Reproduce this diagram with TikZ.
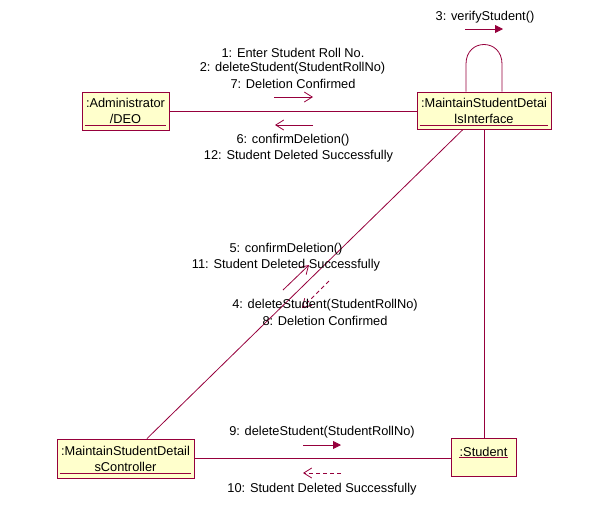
\documentclass[tikz,border=0pt]{standalone}
\usepackage{fontspec}
\setmainfont{Liberation Sans}
\usetikzlibrary{arrows.meta}
\definecolor{umlline}{RGB}{150,0,60}
\definecolor{umlfill}{RGB}{255,255,204}
\begin{document}
\begin{tikzpicture}[x=1pt,y=-1pt,
  font=\fontsize{12.8}{16}\selectfont,
  obj/.style={draw=umlline,fill=umlfill,line width=0.9pt,inner sep=0pt,align=center},
  conn/.style={draw=umlline,line width=0.8pt},
  msg/.style={draw=umlline,line width=0.8pt,-{Straight Barb[length=8pt,width=10pt]}},
  msgf/.style={draw=umlline,line width=0.8pt,-{Triangle[length=8pt,width=8pt]}},
  msgd/.style={msg,dash pattern=on 4pt off 3pt},
  lbl/.style={inner sep=0pt,align=center,text=black},
  uline/.style={draw=umlline,line width=0.8pt}]
\useasboundingbox (0,0) rectangle (594,512);

% objects
\node[obj,minimum width=87pt,minimum height=38pt] (adm) at (125.5,111) {};
\node[lbl] (admt) at (125.5,111) {:Administrator\\/DEO};
\node[obj,minimum width=134pt,minimum height=37pt] (int) at (484,110.5) {};
\node[lbl] (intt) at (484,111) {:MaintainStudentDetai\\lsInterface};
\node[obj,minimum width=137pt,minimum height=39pt] (ctl) at (125.5,458.5) {};
\node[lbl] (ctlt) at (125.5,458.5) {:MaintainStudentDetail\\sController};
\node[obj,minimum width=65pt,minimum height=38pt] (stu) at (483.5,457) {};
\node[lbl] (stut) at (483.5,451.5) {:Student};

% underlines
\draw[uline] ([xshift=3pt,yshift=5pt]adm.south west) -- ([xshift=-3pt,yshift=5pt]adm.south east);
\draw[uline] ([xshift=3pt,yshift=4pt]int.south west) -- ([xshift=-3pt,yshift=4pt]int.south east);
\draw[uline] ([xshift=3pt,yshift=5pt]ctl.south west) -- ([xshift=-3pt,yshift=5pt]ctl.south east);
\draw[uline] ([yshift=-1pt]stut.south west) -- ([yshift=-1pt]stut.south east);

% links
\draw[conn] (adm.east) -- (adm.east -| int.west);
\draw[conn] (int.south) -- (int.south |- stu.north);
\draw[conn] ([xshift=-21pt]int.south) -- ([xshift=21.5pt]ctl.north);
\draw[conn] (ctl.east) -- (ctl.east -| stu.west);
\coordinate (lpl) at (466,64);
\coordinate (lpr) at (502,64);
\draw[conn] ([xshift=-18pt]int.north) -- (lpl)
  .. controls (466,38) and (502,38) .. (lpr)
  -- ([xshift=18pt]int.north);

% message arrows
\coordinate (a1s) at (274,97); \coordinate (a1e) at (313,97);
\coordinate (a2s) at (313,125); \coordinate (a2e) at (275,125);
\coordinate (a3s) at (465,29); \coordinate (a3e) at (503,29);
\coordinate (a4s) at (283,290); \coordinate (a4e) at (309,265);
\coordinate (a5s) at (329,281); \coordinate (a5e) at (302,308);
\coordinate (a6s) at (303,445); \coordinate (a6e) at (341,445);
\coordinate (a7s) at (341,473); \coordinate (a7e) at (303,473);
\draw[msg] (a1s) -- (a1e);
\draw[msg] (a2s) -- (a2e);
\draw[msgf] (a3s) -- (a3e);
\draw[msg] (a4s) -- (a4e);
\draw[msgd] (a5s) -- (a5e);
\draw[msgf] (a6s) -- (a6e);
\draw[msgd] (a7s) -- (a7e);

% labels
\node[lbl] (l1) at (293,53) {1: Enter Student Roll No.};
\node[lbl] (l2) at (292.5,68) {2: deleteStudent(StudentRollNo)};
\node[lbl] (l7) at (293,84) {7: Deletion Confirmed};
\node[lbl] (l6) at (293,140) {6: confirmDeletion()};
\node[lbl] (l12) at (298.5,156) {12: Student Deleted Successfully};
\node[lbl] (l3) at (485,17) {3: verifyStudent()};
\node[lbl] (l5) at (286,249) {5: confirmDeletion()};
\node[lbl] (l11) at (286,265.5) {11: Student Deleted Successfully};
\node[lbl] (l4) at (325,305) {4: deleteStudent(StudentRollNo)};
\node[lbl] (l8) at (325,321) {8: Deletion Confirmed};
\node[lbl] (l9) at (322,432) {9: deleteStudent(StudentRollNo)};
\node[lbl] (l10) at (322,489) {10: Student Deleted Successfully};
\end{tikzpicture}
\end{document}
